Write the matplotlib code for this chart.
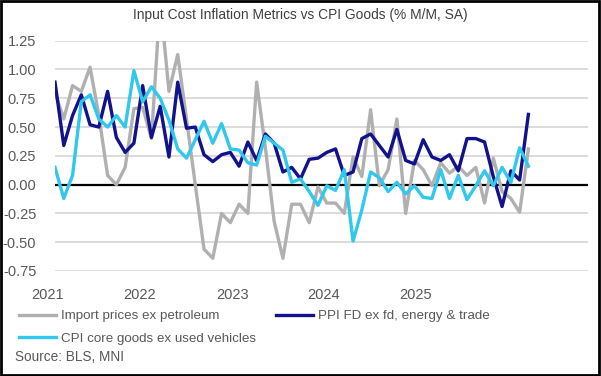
import matplotlib
matplotlib.use("Agg")
import matplotlib.pyplot as plt
from matplotlib.patches import Rectangle
from matplotlib.transforms import blended_transform_factory
import numpy as np
import pandas as pd

# monthly, Jan 2021 - Jul 2025 (% m/m, SA)
months = pd.date_range("2021-01-01", periods=55, freq="MS")

import_ex_petroleum = [
    0.80, 0.57, 0.86, 0.81, 1.02, 0.60, 0.08, 0.00, 0.15, 0.66,
    0.67, 0.40, 1.60, 0.81, 1.13, 0.57, 0.00, -0.56, -0.64, -0.25,
    -0.33, -0.17, -0.25, 0.89, 0.32, -0.32, -0.64, -0.17, -0.17, -0.33,
    -0.02, -0.16, -0.16, -0.25, 0.24, 0.07, 0.65, -0.01, 0.13, 0.57,
    -0.25, 0.21, 0.13, -0.01, 0.19, 0.10, 0.16, 0.08, 0.15, -0.16,
    0.23, -0.06, -0.12, -0.24, 0.31,
]
ppi_fd_core = [
    0.89, 0.34, 0.60, 0.78, 0.52, 0.50, 0.81, 0.41, 0.28, 0.36,
    0.86, 0.41, 0.68, 0.24, 0.89, 0.49, 0.50, 0.26, 0.20, 0.26,
    0.28, 0.16, 0.37, 0.21, 0.44, 0.36, 0.11, 0.15, 0.05, 0.22,
    0.23, 0.28, 0.31, 0.08, 0.11, 0.40, 0.44, 0.34, 0.24, 0.48,
    0.21, 0.18, 0.39, 0.24, 0.21, 0.26, 0.12, 0.40, 0.40, 0.37,
    0.07, -0.19, 0.12, 0.04, 0.61,
]
cpi_core_goods = [
    0.15, -0.12, 0.08, 0.72, 0.78, 0.57, 0.50, 0.60, 0.50, 0.99,
    0.72, 0.85, 0.75, 0.56, 0.31, 0.23, 0.39, 0.55, 0.36, 0.53,
    0.31, 0.30, 0.19, 0.17, 0.42, 0.36, 0.30, 0.02, 0.05, -0.06,
    -0.18, -0.01, -0.05, 0.13, -0.49, -0.22, 0.11, 0.06, -0.06, 0.02,
    -0.08, -0.01, -0.11, -0.12, 0.13, -0.12, 0.08, -0.13, -0.01, 0.12,
    -0.01, 0.15, 0.02, 0.32, 0.16,
]
series_names = [
    "Import prices ex petroleum",
    "PPI FD ex fd, energy & trade",
    "CPI core goods ex used vehicles",
]
year_labels = ["2021", "2022", "2023", "2024", "2025"]

plt.rcParams["font.family"] = ["Liberation Sans", "DejaVu Sans"]
text_col = "#595959"

W, H = 601, 376
fig = plt.figure(figsize=(W / 100, H / 100), dpi=100)
ax = fig.add_axes([55 / W, 1 - 271 / H, (588 - 55) / W, (271 - 40.7) / H])

x = np.arange(len(months))
h_imp, = ax.plot(x, import_ex_petroleum, color="#b0b0b0", lw=2.4, zorder=3)
h_ppi, = ax.plot(x, ppi_fd_core, color="#12128c", lw=2.4, zorder=4)
h_cpi, = ax.plot(x, cpi_core_goods, color="#30c8ec", lw=2.4, zorder=5)
ax.axhline(0, color="black", lw=1.6, zorder=2.5)

ax.set_xlim(0, 60.8)
ax.set_ylim(-0.75, 1.25)
ax.set_yticks(np.arange(-0.75, 1.26, 0.25))
ax.yaxis.set_major_formatter(matplotlib.ticker.FormatStrFormatter("%.2f"))
ax.set_xticks([])
ax.grid(axis="y", color="#d9d9d9", lw=1.3, zorder=0)
ax.set_axisbelow(True)
for s in ax.spines.values():
    s.set_visible(False)
ax.tick_params(axis="y", left=False, labelsize=10.5, colors=text_col, pad=10)

# year labels under the axis (Excel places them a bit off the january points)
trans = blended_transform_factory(ax.transData, ax.transAxes)
year_pos = [-0.83, 9.7, 20.2, 30.6, 41.1]
for lab, p in zip(year_labels, year_pos):
    ax.text(p, -0.105, lab, transform=trans, ha="center", va="center",
            fontsize=10.5, color=text_col, clip_on=False)

fig.text(0.5, 1 - 15 / H, "Input Cost Inflation Metrics vs CPI Goods (% M/M, SA)",
         ha="center", va="center", fontsize=9.9, color="#404040")

fig.legend([h_imp, h_cpi, h_ppi], [series_names[0], series_names[2], series_names[1]],
           ncol=2, loc="upper left", bbox_to_anchor=(19 / W, 1 - 310 / H),
           frameon=False, fontsize=9.6, handlelength=2.8, handletextpad=0.35,
           columnspacing=1.5, labelspacing=0.75, borderpad=0, borderaxespad=0,
           labelcolor=text_col)

fig.text(15 / W, 1 - 357 / H, "Source: BLS, MNI", ha="left", va="center",
         fontsize=9.8, color=text_col)

fig.patches.append(Rectangle((0.002, 0.003), 0.995, 0.994, transform=fig.transFigure,
                             fill=False, edgecolor="black", lw=2))

fig.savefig("out.png", dpi=100)
